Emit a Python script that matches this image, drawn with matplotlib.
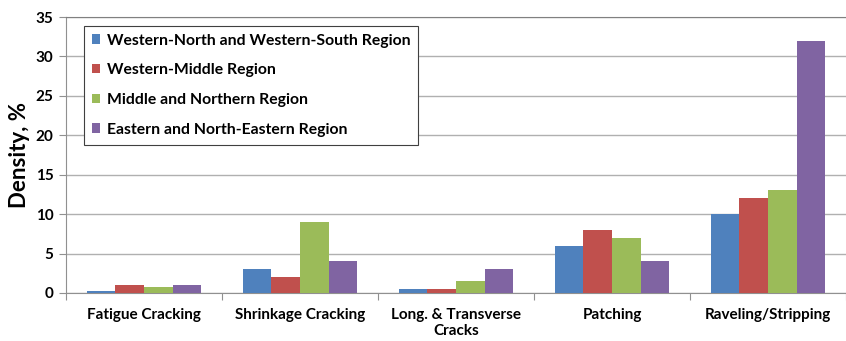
import matplotlib.pyplot as plt
import numpy as np
from matplotlib.patches import Patch

categories = ["Fatigue Cracking", "Shrinkage Cracking", "Long. & Transverse\nCracks",
              "Patching", "Raveling/Stripping"]
regions = ["Western-North and Western-South Region", "Western-Middle Region",
           "Middle and Northern Region", "Eastern and North-Eastern Region"]
west_north_south = [0.2, 3, 0.5, 6, 10]
west_middle = [1, 2, 0.5, 8, 12]
middle_northern = [0.8, 9, 1.5, 7, 13]
eastern = [1, 4, 3, 4, 32]
colors = ["#4F81BD", "#C0504D", "#9BBB59", "#8064A2"]

plt.rcParams["font.family"] = ["Lato", "DejaVu Sans"]

fig = plt.figure(figsize=(8.46, 3.41), dpi=100)
ax = fig.add_axes([0.078, 0.141, 0.922, 0.809])

series = [west_north_south, west_middle, middle_northern, eastern]
x = np.arange(len(categories))
width = 0.183
for i, (vals, c) in enumerate(zip(series, colors)):
    ax.bar(x + (i - 1.5) * width, vals, width, color=c, label=regions[i], zorder=3)

ax.set_xlim(-0.5, len(categories) - 0.5)
ax.set_ylim(0, 35)
ax.set_yticks(range(0, 36, 5))
ax.yaxis.grid(True, color="#b0b0b0", linewidth=1, zorder=0)
ax.set_xticks(np.arange(-0.5, len(categories), 1))
ax.set_xticklabels([])
ax.set_xticks(x, minor=True)
ax.set_xticklabels(categories, minor=True, fontsize=11, fontweight="bold")
ax.tick_params(axis="x", which="minor", length=0, pad=11)
ax.tick_params(axis="x", which="major", length=5, color="#909090")
ax.tick_params(axis="y", length=5, color="#909090", labelsize=11, pad=4)
for t in ax.get_yticklabels():
    t.set_fontweight("bold")

ax.spines["right"].set_visible(False)
ax.spines["top"].set_color("#808080")
ax.spines["left"].set_color("#909090")
ax.spines["bottom"].set_color("#909090")

ax.set_ylabel("Density, %", fontsize=16, fontweight="bold", labelpad=4)

handles = [Patch(facecolor=c, edgecolor="none") for c in colors]
leg = ax.legend(handles, regions, loc="upper left", bbox_to_anchor=(0.013, 0.997),
                fancybox=False, framealpha=1, edgecolor="#404040",
                handlelength=0.55, handleheight=0.55, handletextpad=0.4,
                labelspacing=1.0, borderpad=0.5,
                prop={"weight": "bold", "size": 11.3})
leg.get_frame().set_linewidth(0.8)

fig.savefig("out.png", dpi=100)
